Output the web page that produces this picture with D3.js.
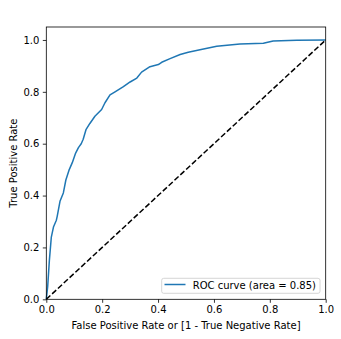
<!DOCTYPE html>
<html><head><meta charset="utf-8">
<script src="https://cdn.jsdelivr.net/npm/d3@7"></script>
<style>
html,body{margin:0;padding:0;background:#fff;}
svg{display:block;font-family:"DejaVu Sans",sans-serif;}
</style></head>
<body>
<svg id="chart" width="341" height="339"></svg>
<script>
const fpr = [0,0.005,0.011,0.018,0.026,0.036,0.039,0.049,0.061,0.070,0.081,0.093,0.105,0.115,0.125,0.132,0.142,0.156,0.174,0.198,0.210,0.228,0.246,0.276,0.300,0.324,0.341,0.371,0.401,0.413,0.443,0.479,0.508,0.550,0.610,0.693,0.777,0.812,0.896,1.0];
const tpr = [0,0.05,0.15,0.24,0.28,0.305,0.32,0.378,0.41,0.46,0.497,0.527,0.564,0.585,0.60,0.617,0.654,0.678,0.706,0.732,0.758,0.788,0.80,0.82,0.838,0.853,0.876,0.897,0.905,0.914,0.928,0.944,0.953,0.962,0.976,0.984,0.987,0.996,0.999,1.0];
const xTicks = [0,0.2,0.4,0.6,0.8,1.0];
const yTicks = [0,0.2,0.4,0.6,0.8,1.0];
const legendLabel = "ROC curve (area = 0.85)";
const xLabel = "False Positive Rate or [1 - True Negative Rate]";
const yLabel = "True Positive Rate";

const svg = d3.select("#chart");
const L = 46.3, R = 325.7, T = 27, B = 299.3;
const x = d3.scaleLinear().domain([0,1]).range([L,R]);
const y = d3.scaleLinear().domain([0,1.05]).range([B,T]);

const line = d3.line().x(d=>x(d[0])).y(d=>y(d[1]));
const pts = fpr.map((v,i)=>[v,tpr[i]]);

svg.append("path").datum(pts).attr("d",line).attr("fill","none")
  .attr("stroke","#1f77b4").attr("stroke-width",1.5).attr("stroke-linejoin","round");

svg.append("path").datum([[0,0],[1,1]]).attr("d",line).attr("fill","none")
  .attr("stroke","#000").attr("stroke-width",1.5).attr("stroke-dasharray","5.55,2.4");

const fmt = d3.format(".1f");
const xa = svg.append("g").attr("transform",`translate(0,${B})`)
  .call(d3.axisBottom(x).tickValues(xTicks).tickFormat(fmt).tickSize(3.5).tickPadding(3.5));
const ya = svg.append("g").attr("transform",`translate(${L},0)`)
  .call(d3.axisLeft(y).tickValues(yTicks).tickFormat(fmt).tickSize(3.5).tickPadding(3.5));
[xa,ya].forEach(g=>{
  g.select(".domain").remove();
  g.selectAll("line").attr("stroke","#000").attr("stroke-width",0.8);
  g.selectAll("text").attr("font-size",10).attr("fill","#000").attr("font-family","DejaVu Sans");
});

svg.append("rect").attr("x",L).attr("y",T).attr("width",R-L).attr("height",B-T)
  .attr("fill","none").attr("stroke","#000").attr("stroke-width",0.8);

svg.append("text").attr("x",(L+R)/2).attr("y",329).attr("text-anchor","middle")
  .attr("font-size",10).text(xLabel);
svg.append("text").attr("transform",`translate(16.5,${(T+B)/2}) rotate(-90)`)
  .attr("text-anchor","middle").attr("font-size",10).text(yLabel);

const lg = svg.append("g");
lg.append("rect").attr("x",161.7).attr("y",278.3).attr("width",158.3).attr("height",15)
  .attr("rx",2).attr("fill","#fff").attr("fill-opacity",0.8).attr("stroke","#ccc").attr("stroke-width",0.8);
lg.append("line").attr("x1",164.5).attr("x2",185.5).attr("y1",284.5).attr("y2",284.5)
  .attr("stroke","#1f77b4").attr("stroke-width",1.5);
lg.append("text").attr("x",192.7).attr("y",289).attr("font-size",10).text(legendLabel);
</script>
</body></html>
